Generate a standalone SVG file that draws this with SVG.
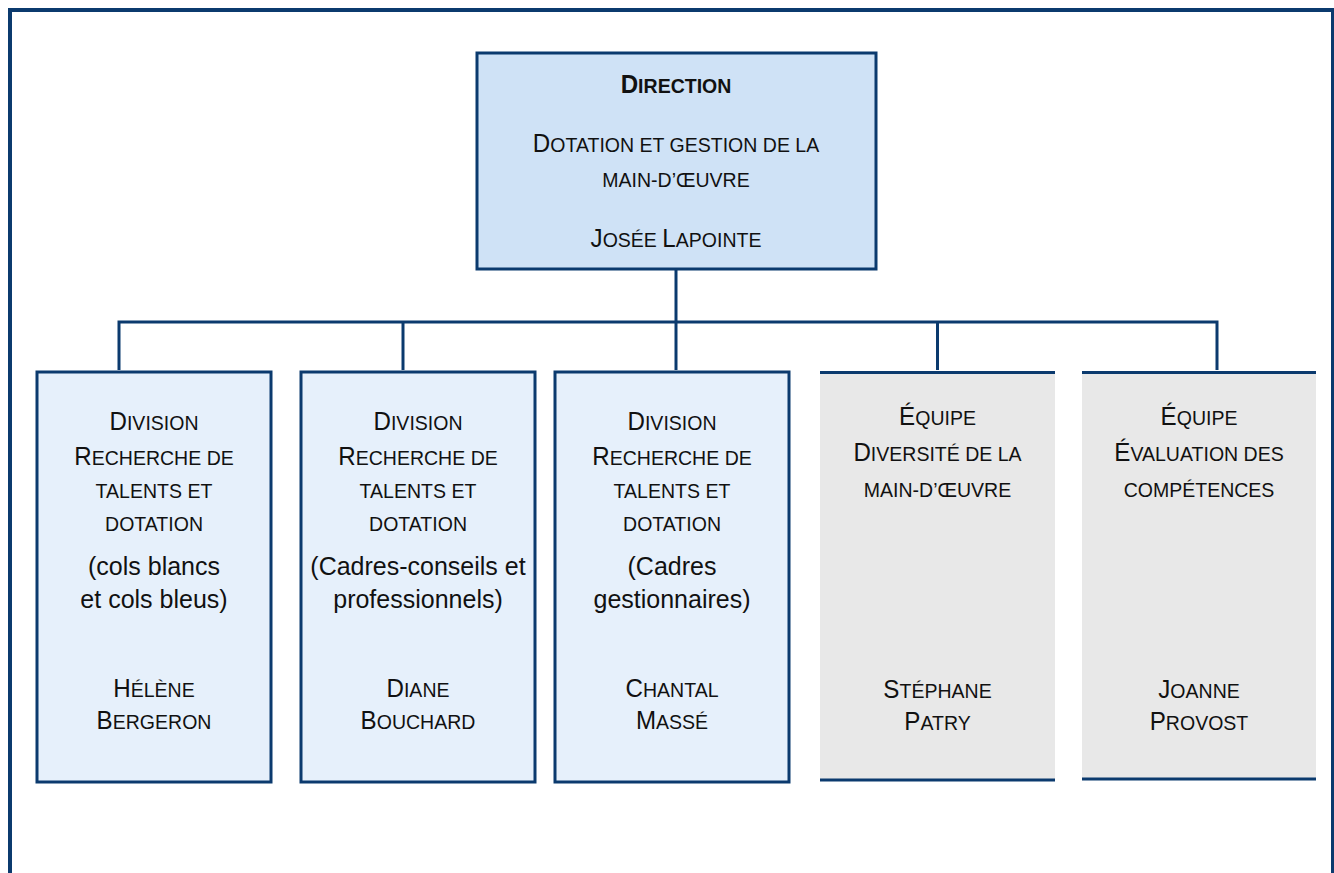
<svg xmlns="http://www.w3.org/2000/svg" width="1334" height="873" viewBox="0 0 1334 873">
<style>
text{font-family:"Liberation Sans",Arial,sans-serif;fill:#111;text-anchor:middle;font-size:25px}
.L{font-size:26px}
.s{font-size:21px}
.b{font-weight:bold}
.frame{fill:none;stroke:#0b3a6e;stroke-width:4}
.top{fill:#cfe2f6;stroke:#0b3a6e;stroke-width:3}
.div{fill:#e6f0fb;stroke:#0b3a6e;stroke-width:3}
.eq{fill:#e8e8e8}
.edge{stroke:#0b3a6e;stroke-width:3;fill:none}
.conn{stroke:#0b3a6e;stroke-width:3;fill:none}
</style>
<rect x="0" y="0" width="1334" height="873" fill="#ffffff"/>
<rect class="frame" x="10" y="10" width="1323" height="900"/>

<g id="connectors">
<path class="conn" d="M676,270 V322"/>
<path class="conn" d="M119,370 V322 H1217 V370"/>
<path class="conn" d="M403,322 V370"/>
<path class="conn" d="M676,322 V370"/>
<path class="conn" d="M937.5,322 V370"/>
</g>

<g id="direction">
<rect class="top" x="477" y="53" width="399" height="216"/>
<g transform="translate(676,0) scale(0.93,1)">
<text x="0" y="93" class="b"><tspan class="L">D</tspan><tspan class="s">IRECTION</tspan></text>
<text x="0" y="152"><tspan class="L">D</tspan><tspan class="s">OTATION ET GESTION DE LA</tspan></text>
<text x="0" y="187"><tspan class="s">MAIN-D’ŒUVRE</tspan></text>
<text x="0" y="247"><tspan class="L">J</tspan><tspan class="s">OSÉE </tspan><tspan class="L">L</tspan><tspan class="s">APOINTE</tspan></text>
</g>
</g>

<g id="division1">
<rect class="div" x="37" y="372" width="234" height="410"/>
<g transform="translate(154,0) scale(0.93,1)">
<text x="0" y="430"><tspan class="L">D</tspan><tspan class="s">IVISION</tspan></text>
<text x="0" y="465"><tspan class="L">R</tspan><tspan class="s">ECHERCHE DE</tspan></text>
<text x="0" y="498"><tspan class="s">TALENTS ET</tspan></text>
<text x="0" y="531"><tspan class="s">DOTATION</tspan></text>
<text x="0" y="697"><tspan class="L">H</tspan><tspan class="s">ÉLÈNE</tspan></text>
<text x="0" y="729"><tspan class="L">B</tspan><tspan class="s">ERGERON</tspan></text>
</g>
<text x="154" y="575">(cols blancs</text>
<text x="154" y="608">et cols bleus)</text>
</g>

<g id="division2">
<rect class="div" x="301" y="372" width="234" height="410"/>
<g transform="translate(418,0) scale(0.93,1)">
<text x="0" y="430"><tspan class="L">D</tspan><tspan class="s">IVISION</tspan></text>
<text x="0" y="465"><tspan class="L">R</tspan><tspan class="s">ECHERCHE DE</tspan></text>
<text x="0" y="498"><tspan class="s">TALENTS ET</tspan></text>
<text x="0" y="531"><tspan class="s">DOTATION</tspan></text>
<text x="0" y="697"><tspan class="L">D</tspan><tspan class="s">IANE</tspan></text>
<text x="0" y="729"><tspan class="L">B</tspan><tspan class="s">OUCHARD</tspan></text>
</g>
<text x="418" y="575">(Cadres-conseils et</text>
<text x="418" y="608">professionnels)</text>
</g>

<g id="division3">
<rect class="div" x="555" y="372" width="234" height="410"/>
<g transform="translate(672,0) scale(0.93,1)">
<text x="0" y="430"><tspan class="L">D</tspan><tspan class="s">IVISION</tspan></text>
<text x="0" y="465"><tspan class="L">R</tspan><tspan class="s">ECHERCHE DE</tspan></text>
<text x="0" y="498"><tspan class="s">TALENTS ET</tspan></text>
<text x="0" y="531"><tspan class="s">DOTATION</tspan></text>
<text x="0" y="697"><tspan class="L">C</tspan><tspan class="s">HANTAL</tspan></text>
<text x="0" y="729"><tspan class="L">M</tspan><tspan class="s">ASSÉ</tspan></text>
</g>
<text x="672" y="575">(Cadres</text>
<text x="672" y="608">gestionnaires)</text>
</g>

<g id="equipe1">
<rect class="eq" x="820" y="372" width="235" height="408"/>
<path class="edge" d="M820,372.5 H1055 M820,780 H1055"/>
<g transform="translate(937.5,0) scale(0.93,1)">
<text x="0" y="425"><tspan class="L">É</tspan><tspan class="s">QUIPE</tspan></text>
<text x="0" y="461"><tspan class="L">D</tspan><tspan class="s">IVERSITÉ DE LA</tspan></text>
<text x="0" y="497"><tspan class="s">MAIN-D’ŒUVRE</tspan></text>
<text x="0" y="698"><tspan class="L">S</tspan><tspan class="s">TÉPHANE</tspan></text>
<text x="0" y="730"><tspan class="L">P</tspan><tspan class="s">ATRY</tspan></text>
</g>
</g>

<g id="equipe2">
<rect class="eq" x="1082" y="372" width="234" height="408"/>
<path class="edge" d="M1082,372.5 H1316 M1082,779 H1316"/>
<g transform="translate(1199,0) scale(0.93,1)">
<text x="0" y="425"><tspan class="L">É</tspan><tspan class="s">QUIPE</tspan></text>
<text x="0" y="461"><tspan class="L">É</tspan><tspan class="s">VALUATION DES</tspan></text>
<text x="0" y="497"><tspan class="s">COMPÉTENCES</tspan></text>
<text x="0" y="698"><tspan class="L">J</tspan><tspan class="s">OANNE</tspan></text>
<text x="0" y="730"><tspan class="L">P</tspan><tspan class="s">ROVOST</tspan></text>
</g>
</g>
</svg>
